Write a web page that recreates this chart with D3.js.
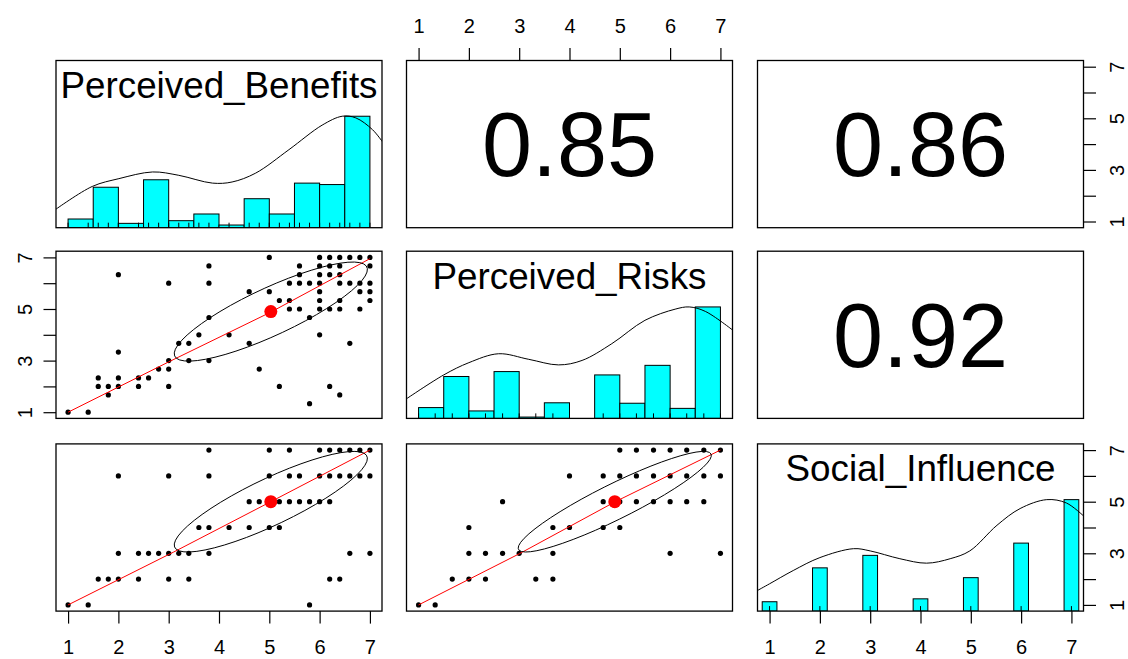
<!DOCTYPE html>
<html>
<head>
<meta charset="utf-8">
<script src="https://cdn.jsdelivr.net/npm/d3@7"></script>
<style>
  body { margin: 0; background: #fff; }
  svg  { display: block; font-family: "Liberation Sans", Arial, sans-serif; }
</style>
</head>
<body>
<div id="chart"></div>
<script>
'use strict';

// ── Data ────────────────────────────────────────────────────────────────────
const varNames = ['Perceived_Benefits', 'Perceived_Risks', 'Social_Influence'];
const axisTicks = [1, 2, 3, 4, 5, 6, 7];

// correlations shown in the upper panels: [row, col, r]
const corrCells = [[0, 1, 0.85], [0, 2, 0.86], [1, 2, 0.92]];

// means / sds used for the correlation ellipses and centroid dots
const varMeans = [5.03, 4.90, 5.00];
const varSds   = [1.92, 1.92, 1.95];

// histogram bars (relative heights, tallest = 1)
const histEdges     = [1, 1.5, 2, 2.5, 3, 3.5, 4, 4.5, 5, 5.5, 6, 6.5, 7];
const benefitsBars  = [0.078, 0.363, 0.039, 0.43, 0.063, 0.123, 0.024, 0.26, 0.123, 0.40, 0.387, 1];
const risksBars     = [0.097, 0.376, 0.067, 0.42, 0.012, 0.14, 0, 0.39, 0.136, 0.476, 0.09, 1];
const socialLevels  = [1, 2, 3, 4, 5, 6, 7];
const socialBars    = [0.084, 0.388, 0.50, 0.11, 0.30, 0.61, 1];

// density curves (x, relative height)
const benefitsDensity = [[0.74, 0.16], [1.48, 0.37], [2.01, 0.44], [2.68, 0.50], [3.2, 0.47], [3.87, 0.40],
  [4.26, 0.41], [4.73, 0.49], [5.39, 0.70], [6.05, 0.92], [6.45, 1.0], [6.72, 0.985], [7.05, 0.88], [7.25, 0.77]];
const risksDensity = [[0.76, 0.176], [1.5, 0.39], [2.0, 0.50], [2.59, 0.58], [3.19, 0.53], [3.78, 0.48],
  [4.25, 0.52], [4.84, 0.67], [5.5, 0.88], [6.1, 0.98], [6.38, 1.0], [6.7, 0.96], [7.25, 0.79]];
const socialDensity = [[0.76, 0.185], [1.0, 0.245], [1.47, 0.364], [2.0, 0.48], [2.67, 0.56], [3.0, 0.54],
  [3.59, 0.47], [4.12, 0.43], [4.59, 0.47], [4.98, 0.54], [5.52, 0.77], [5.98, 0.92], [6.51, 1.0],
  [6.9, 0.97], [7.25, 0.85]];

// scatter points, grouped by y value: [y, [x values]]
const benefitsVsRisks = [
  [7,    [5, 6, 6.2, 6.4, 6.6, 6.8, 7]],
  [6.67, [3.8, 5.6, 6, 6.2, 6.4, 7]],
  [6.33, [2, 5.6, 6, 6.2, 6.4]],
  [6,    [3, 3.8, 5.4, 5.6, 5.8, 6, 6.4, 6.6, 6.8, 7]],
  [5.67, [4.6, 5, 6, 6.8, 7]],
  [5.33, [5.2, 5.4, 6, 6.4, 7]],
  [5,    [5.4, 5.6, 6, 6.2, 6.4, 6.8]],
  [4.67, [3.8, 5.8]],
  [4,    [3.6, 4.2, 6]],
  [3.67, [3.2, 3.4, 4.6, 6.6]],
  [3.33, [2]],
  [3,    [3, 3.4, 3.8]],
  [2.67, [2.8, 3, 4.8]],
  [2.33, [1.6, 2, 2.4, 2.6]],
  [2,    [1.6, 1.8, 2, 2.4, 3, 5.2, 6.2]],
  [1.67, [1.8, 6.4]],
  [1.33, [5.8]],
  [1,    [1, 1.4]]
];
const benefitsVsSocial = [
  [7, [3.8, 5, 5.4, 6, 6.2, 6.4, 6.6, 6.8, 7]],
  [6, [2, 3, 3.8, 5, 5.4, 5.6, 6, 6.2, 6.4, 6.6, 6.8, 7]],
  [5, [4.6, 4.8, 5, 5.2, 5.4, 5.6, 5.8, 6, 6.2]],
  [4, [3.6, 3.8, 4.2, 4.6, 5, 5.2]],
  [3, [2, 2.4, 2.6, 2.8, 3, 3.2, 3.4, 3.8, 6.6, 7]],
  [2, [1.6, 1.8, 2, 2.4, 3, 3.4, 6.2, 6.4]],
  [1, [1, 1.4, 5.8]]
];
const risksVsSocial = [
  [7, [5, 5.33, 5.67, 6, 6.33, 6.67, 7]],
  [6, [4, 4.67, 5, 5.33, 5.67, 6, 6.33, 6.67, 7]],
  [5, [2.67, 4.67, 5, 5.33, 5.67, 6, 6.33, 6.67]],
  [4, [2, 3.67, 4, 4.67, 5]],
  [3, [2, 2.33, 2.67, 3, 3.67, 6, 7]],
  [2, [1.67, 2, 2.33, 3.33, 3.67]],
  [1, [1, 1.33]]
];

// smoother (red line) through each scatter
const smoothBenRisk = [[1, 1], [3, 2.95], [5.03, 4.88], [7, 6.95]];
const smoothBenSoc  = [[1, 1], [3.1, 3.05], [5.03, 5.0], [7, 7]];
const smoothRiskSoc = [[1, 1], [3, 2.98], [4.91, 5.0], [7, 7]];

// ── Layout ──────────────────────────────────────────────────────────────────
const W = 1128, H = 659;
const X0 = [56, 406.5, 757.5];
const Y0 = [60.5, 251.2, 443.9];
const PW = 326, PH = 167.2;
const TICK = 12.5;
const AXIS_FS = 20;
const LABEL_FS = 36.8;
const HIST_FILL = '#00ffff';

const lo = 1, hi = 7, ext = (hi - lo) * 0.04;
const DOMAIN = [lo - ext, hi + ext];

const svg = d3.select('#chart').append('svg')
  .attr('width', W).attr('height', H)
  .attr('viewBox', `0 0 ${W} ${H}`);

const xs = c => d3.scaleLinear().domain(DOMAIN).range([X0[c], X0[c] + PW]);
const ys = r => d3.scaleLinear().domain(DOMAIN).range([Y0[r] + PH, Y0[r]]);

const defs = svg.append('defs');
function panel(r, c) {
  const id = `clip-${r}-${c}`;
  defs.append('clipPath').attr('id', id)
    .append('rect').attr('x', X0[c]).attr('y', Y0[r]).attr('width', PW).attr('height', PH);
  return svg.append('g').attr('clip-path', `url(#${id})`);
}

// ── Diagonal: histograms + density + label ──────────────────────────────────
const rugValues = [
  Array.from(new Set(benefitsVsRisks.flatMap(d => d[1]).concat(benefitsVsSocial.flatMap(d => d[1])))),
  Array.from(new Set(benefitsVsRisks.map(d => d[0]).concat(risksVsSocial.flatMap(d => d[1])))),
  socialLevels
];
const densities = [benefitsDensity, risksDensity, socialDensity];

function drawDiag(i) {
  const g = panel(i, i);
  const x = xs(i);
  const y = d3.scaleLinear().domain([0, 1.5]).range([Y0[i] + PH, Y0[i]]);

  let bars;
  if (i < 2) {
    const h = i === 0 ? benefitsBars : risksBars;
    const m = d3.max(h);
    bars = h.map((v, k) => ({ x0: histEdges[k], x1: histEdges[k + 1], v: v / m }));
  } else {
    const m = d3.max(socialBars);
    const half = d3.min(d3.pairs(socialLevels, (a, b) => b - a)) * (socialLevels.length - 1) / 41;
    bars = socialBars.map((v, k) => ({ x0: socialLevels[k] - half, x1: socialLevels[k] + half, v: v / m }));
  }
  g.selectAll('rect.bar').data(bars).enter().append('rect')
    .attr('class', 'bar')
    .attr('x', d => x(d.x0))
    .attr('width', d => x(d.x1) - x(d.x0))
    .attr('y', d => y(d.v))
    .attr('height', d => y(0) - y(d.v))
    .attr('fill', HIST_FILL)
    .attr('stroke', '#000')
    .attr('stroke-width', 1);

  // rug
  g.selectAll('line.rug').data(rugValues[i]).enter().append('line')
    .attr('x1', d => x(d)).attr('x2', d => x(d))
    .attr('y1', Y0[i] + PH).attr('y2', Y0[i] + PH - PH * 0.03)
    .attr('stroke', '#000').attr('stroke-width', 1);

  // density
  g.append('path')
    .datum(densities[i])
    .attr('d', d3.line().x(d => x(d[0])).y(d => y(d[1])).curve(d3.curveCatmullRom))
    .attr('fill', 'none').attr('stroke', '#000').attr('stroke-width', 1);

  svg.append('text')
    .attr('x', X0[i] + PW / 2)
    .attr('y', Y0[i] + 37.5)
    .attr('text-anchor', 'middle')
    .attr('font-size', LABEL_FS)
    .attr('fill', '#000')
    .text(varNames[i]);
}
[0, 1, 2].forEach(drawDiag);

// ── Upper panels: correlation text ──────────────────────────────────────────
corrCells.forEach(([r, c, v]) => {
  const fs = 90;
  svg.append('text')
    .attr('x', X0[c] + PW / 2)
    .attr('y', Y0[r] + PH / 2 + fs * 0.358)
    .attr('text-anchor', 'middle')
    .attr('font-size', fs)
    .attr('fill', '#000')
    .text(v.toFixed(2));
});

// ── Lower panels: scatter, smoother, ellipse, centroid ──────────────────────
function ellipsePts(mx, my, sx, sy, r) {
  const seg = 51;
  const th = Math.sign(r) / Math.sqrt(2);
  const a = Math.sqrt(1 + r), b = Math.sqrt(1 - r);
  return d3.range(seg + 1).map(k => {
    const t = k * 2 * Math.PI / seg;
    const u = Math.cos(t) * a, w = Math.sin(t) * b;
    return [(th * u - th * w) * sx + mx, (th * u + th * w) * sy + my];
  });
}

function drawScatter(r, c, groups, smooth) {
  const g = panel(r, c);
  const x = xs(c), y = ys(r);
  const pts = groups.flatMap(([yy, xx]) => xx.map(v => [v, yy]));
  const rc = corrCells.find(d => d[0] === c && d[1] === r)[2];

  g.selectAll('circle.pt').data(pts).enter().append('circle')
    .attr('cx', d => x(d[0])).attr('cy', d => y(d[1]))
    .attr('r', 2.6).attr('fill', '#000');

  g.append('path')
    .datum(smooth)
    .attr('d', d3.line().x(d => x(d[0])).y(d => y(d[1])))
    .attr('fill', 'none').attr('stroke', '#ff0000').attr('stroke-width', 1);

  g.append('circle')
    .attr('cx', x(varMeans[c])).attr('cy', y(varMeans[r]))
    .attr('r', 6.5).attr('fill', '#ff0000');

  g.append('path')
    .datum(ellipsePts(varMeans[c], varMeans[r], varSds[c], varSds[r], rc))
    .attr('d', d3.line().x(d => x(d[0])).y(d => y(d[1])))
    .attr('fill', 'none').attr('stroke', '#000').attr('stroke-width', 1);
}
drawScatter(1, 0, benefitsVsRisks, smoothBenRisk);
drawScatter(2, 0, benefitsVsSocial, smoothBenSoc);
drawScatter(2, 1, risksVsSocial, smoothRiskSoc);

// ── Panel boxes ─────────────────────────────────────────────────────────────
for (let r = 0; r < 3; r++) {
  for (let c = 0; c < 3; c++) {
    svg.append('rect')
      .attr('x', X0[c]).attr('y', Y0[r]).attr('width', PW).attr('height', PH)
      .attr('fill', 'none').attr('stroke', '#000').attr('stroke-width', 1.3);
  }
}

// ── Axes ────────────────────────────────────────────────────────────────────
function styleAxis(g) {
  g.select('.domain').remove();
  g.selectAll('.tick line').attr('stroke', '#000').attr('stroke-width', 1.2);
  g.selectAll('text').attr('font-size', AXIS_FS).attr('fill', '#000')
    .attr('font-family', '"Liberation Sans", Arial, sans-serif');
}

function hAxis(c, yPos, top) {
  const ax = (top ? d3.axisTop(xs(c)) : d3.axisBottom(xs(c)))
    .tickValues(axisTicks).tickFormat(d3.format('d'))
    .tickSize(TICK).tickPadding(top ? 15 : 16);
  svg.append('g').attr('transform', `translate(0,${yPos})`).call(ax).call(styleAxis);
}

function vAxis(r, xPos, right) {
  const ax = (right ? d3.axisRight(ys(r)) : d3.axisLeft(ys(r)))
    .tickValues(axisTicks).tickSize(TICK).tickFormat(d => d % 2 ? d : '');
  const g = svg.append('g').attr('transform', `translate(${xPos},0)`).call(ax).call(styleAxis);
  const off = right ? 40 : -24;
  g.selectAll('.tick text')
    .attr('x', 0).attr('y', 0).attr('dy', 0)
    .attr('text-anchor', 'middle')
    .attr('transform', `translate(${off},0) rotate(-90)`);
}

hAxis(1, Y0[0], true);
hAxis(0, Y0[2] + PH, false);
hAxis(2, Y0[2] + PH, false);
vAxis(1, X0[0], false);
vAxis(0, X0[2] + PW, true);
vAxis(2, X0[2] + PW, true);
</script>
</body>
</html>
